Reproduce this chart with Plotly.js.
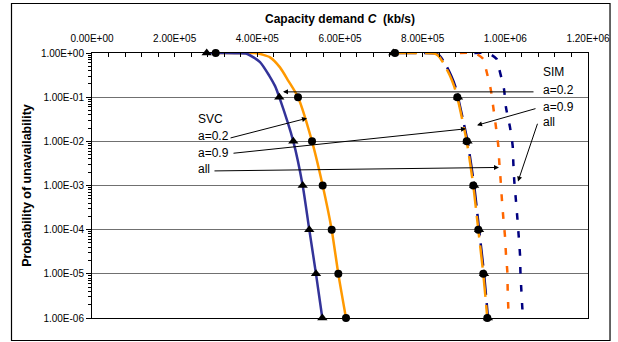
<!DOCTYPE html>
<html>
<head>
<meta charset="utf-8">
<script src="https://cdn.plot.ly/plotly-3.0.1.min.js"></script>
<style>html,body{margin:0;padding:0;background:#fff;}#chart{width:618px;height:342px;}</style>
</head>
<body>
<div id="chart"></div>
<script>
// ---- data (x: capacity demand in kb/s, p: probability of unavailability) ----
const xTickVals = [0, 200000, 400000, 600000, 800000, 1000000, 1200000];
const xTickText = ['0.00E+00', '2.00E+05', '4.00E+05', '6.00E+05', '8.00E+05', '1.00E+06', '1.20E+06'];
const yTickVals = [1, 1e-1, 1e-2, 1e-3, 1e-4, 1e-5, 1e-6];
const yTickText = ['1.00E+00', '1.00E-01', '1.00E-02', '1.00E-03', '1.00E-04', '1.00E-05', '1.00E-06'];

// SIM a=0.2 (solid blue, triangles)
const simA02CurveX = [277500, 320000, 350000, 374300, 406500, 429000, 442700, 453100, 487000, 509700, 525700, 541900, 557200];
const simA02CurveP = [1, 0.9999, 0.99, 0.964, 0.624, 0.305, 0.18, 0.1, 0.01, 1e-3, 1e-4, 1e-5, 1e-6];
const simA02MarkX = [277500, 453100, 487000, 509700, 525700, 541900, 557200];

// SVC a=0.2 (solid orange, circles)
const svcA02CurveX = [299300, 340000, 380000, 398400, 430700, 454800, 475000, 498400, 532300, 558100, 579900, 595900, 614500];
const svcA02CurveP = [1, 0.9999, 0.998, 0.99, 0.798, 0.473, 0.235, 0.1, 0.01, 1e-3, 1e-4, 1e-5, 1e-6];
const svcA02MarkX = [299300, 498400, 532300, 558100, 579900, 595900, 614500];

// SVC a=0.9 (long dash orange, circles) and SIM a=0.9 (long dash navy, triangles)
const a09CurveP = [1, 0.999, 0.98, 0.868, 0.514, 0.305, 0.18, 0.1, 0.01, 1e-3, 1e-4, 1e-5, 1e-6];
const svcA09CurveX = [733100, 793500, 825000, 837900, 854000, 866100, 875800, 883800, 906600, 922500, 934600, 946700, 956400];
const simA09CurveX = [731000, 795000, 828000, 841000, 857000, 869000, 878500, 885500, 908500, 924500, 936500, 948500, 958000];
const svcA09MarkX = [733100, 883800, 906600, 922500, 934600, 946700, 956400];
const simA09MarkX = [729000, 885500, 908500, 924500, 936500, 948500, 958000];

const decadeP = [1, 1e-1, 1e-2, 1e-3, 1e-4, 1e-5, 1e-6];

// SVC all (dashed orange-red) and SIM all (dashed navy)
const allCurveP = [1, 0.99, 0.73, 0.433, 0.152, 0.0583, 0.0208, 0.00782, 0.00333, 0.00125, 4.4e-4, 1.87e-4, 7.05e-5, 2.7e-5, 1.13e-5, 4.33e-6, 1.69e-6, 1e-6];
const svcAllX = [890000, 926600, 946700, 953200, 964600, 970900, 977400, 983000, 985400, 988800, 992000, 995100, 999200, 1001600, 1004800, 1005700, 1007200, 1008900];
const simAllX = [925000, 958100, 979100, 985200, 996800, 1001600, 1011300, 1017800, 1019300, 1021700, 1025800, 1029000, 1032400, 1035500, 1036500, 1038700, 1041100, 1042700];

const FONT = 'Liberation Sans, Arial, sans-serif';

function line(x, y, color, dash) {
  return {x: x, y: y, type: 'scatter', mode: 'lines', showlegend: false, hoverinfo: 'skip',
    line: {color: color, width: 2.5, dash: dash, shape: 'spline', smoothing: 0.6}};
}
function marks(x, y, symbol, size) {
  return {x: x, y: y, type: 'scatter', mode: 'markers', showlegend: false, cliponaxis: false,
    marker: {symbol: symbol, size: size, color: '#000000'}};
}

const data = [
  line(simAllX, allCurveP, '#000080', '7px,11px'),
  line(svcAllX, allCurveP, '#FF6600', '7px,11px'),
  line(simA09CurveX, a09CurveP, '#000080', '22px,8px'),
  line(svcA09CurveX, a09CurveP, '#FF9900', '22px,8px'),
  line(svcA02CurveX, svcA02CurveP, '#FF9900', 'solid'),
  line(simA02CurveX, simA02CurveP, '#333399', 'solid'),
  marks(simA09MarkX, decadeP, 'triangle-up', 9),
  marks(svcA09MarkX, decadeP, 'circle', 8),
  marks(simA02MarkX, decadeP, 'triangle-up', 9),
  marks(svcA02MarkX, decadeP, 'circle', 8)
];

function arrow(hx, hy, tx, ty) {
  return {x: hx, y: hy, ax: tx, ay: ty, xref: 'x', yref: 'y', axref: 'x', ayref: 'y',
    text: '', showarrow: true, arrowhead: 2, arrowsize: 1, arrowwidth: 1, arrowcolor: '#000000'};
}
function label(txt, x, y) {
  return {x: x, y: y, xref: 'x', yref: 'y', text: txt, showarrow: false, xanchor: 'left', yanchor: 'middle',
    font: {family: FONT, size: 12, color: '#000000'}};
}

const annotations = [
  arrow(462100, -0.88, 1071800, -0.88),
  arrow(931500, -1.636, 1076600, -1.25),
  arrow(1030700, -2.909, 1079000, -1.568),
  arrow(520200, -1.477, 331500, -1.932),
  arrow(904800, -1.716, 338700, -2.273),
  arrow(984700, -2.591, 292700, -2.67),
  label('SVC', 251600, -1.5),
  label('a=0.2', 251600, -1.886),
  label('a=0.9', 251600, -2.273),
  label('all', 251600, -2.636),
  label('SIM', 1086300, -0.432),
  label('a=0.2', 1086300, -0.841),
  label('a=0.9', 1086300, -1.227),
  label('all', 1086300, -1.568)
];

const layout = {
  width: 618, height: 342,
  margin: {l: 92, r: 30, t: 53, b: 24, pad: 0},
  paper_bgcolor: '#ffffff', plot_bgcolor: '#ffffff',
  font: {family: FONT, color: '#000000', size: 10},
  showlegend: false,
  xaxis: {
    side: 'top', range: [0, 1200000], tickmode: 'array', tickvals: xTickVals, ticktext: xTickText,
    ticks: 'inside', ticklen: 4, tickcolor: '#000000', tickwidth: 1, ticklabelstandoff: 6,
    minor: {dtick: 40000, tick0: 0, ticks: 'inside', ticklen: 4, tickcolor: '#000000', showgrid: false},
    showline: true, linecolor: '#000000', linewidth: 1, mirror: true,
    showgrid: false, zeroline: false,
    tickfont: {family: FONT, size: 10, color: '#000000'},
    title: {text: '<b>Capacity demand <i>C</i>  (kb/s)</b>', font: {family: FONT, size: 12, color: '#000000'}, standoff: 6}
  },
  yaxis: {
    type: 'log', range: [-6, 0], tickmode: 'array', tickvals: yTickVals, ticktext: yTickText,
    ticks: 'outside', ticklen: 5, tickcolor: '#000000', tickwidth: 1,
    minor: {dtick: 'D1', ticks: 'outside', ticklen: 3, tickcolor: '#000000', showgrid: false},
    showline: true, linecolor: '#000000', linewidth: 1, mirror: true,
    showgrid: true, gridcolor: '#707070', gridwidth: 1, zeroline: false,
    tickfont: {family: FONT, size: 10, color: '#000000'},
    title: {text: '<b>Probability of unavailability</b>', font: {family: FONT, size: 12.5, color: '#000000'}, standoff: 6}
  },
  shapes: [
    {type: 'rect', xref: 'paper', yref: 'paper', x0: -0.1623, x1: 1.0444, y0: -0.0849, y1: 1.1868,
     line: {color: '#000000', width: 1.2}, fillcolor: 'rgba(0,0,0,0)', layer: 'below'}
  ],
  annotations: annotations
};

Plotly.newPlot('chart', data, layout, {displayModeBar: false, staticPlot: true});
</script>
</body>
</html>
